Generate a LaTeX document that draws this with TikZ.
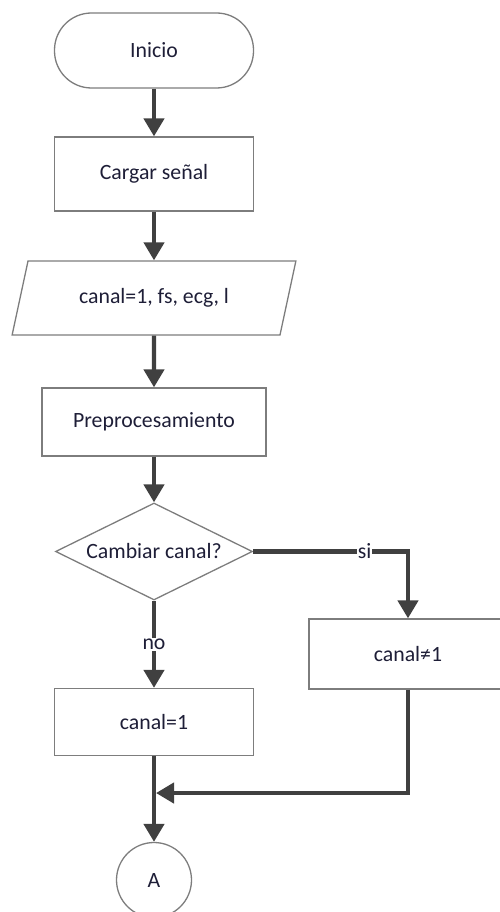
\documentclass[tikz,border=0pt]{standalone}
\usepackage{fontspec}
\setmainfont{Carlito}
\usetikzlibrary{positioning,arrows.meta,shapes.geometric}
\definecolor{linea}{RGB}{64,64,64}
\definecolor{borde}{RGB}{125,125,125}
\definecolor{texto}{RGB}{30,30,55}

\begin{document}
\begin{tikzpicture}[x=1pt,y=-1pt,>={Triangle[length=18pt,width=20pt]},
  font=\fontsize{21.8}{26}\selectfont,text=texto,
  caja/.style={draw=borde,line width=1.3pt,minimum width=199pt,inner sep=0pt},
  flujo/.style={->,draw=linea,line width=4.3pt},
  etiqueta/.style={fill=white,inner sep=1pt}]
  \useasboundingbox (0,0) rectangle (499,912);
  \node[caja,rounded corners=37pt,minimum height=75pt] (inicio) at (154,50.5) {Inicio};
  \node[caja,minimum height=74pt] (cargar) at (154,174) {Cargar señal};
  \node[caja,trapezium,trapezium left angle=63.4,trapezium right angle=116.6,
    trapezium stretches=true,minimum width=284pt,minimum height=74pt] (datos) at (154,298) {canal=1, fs, ecg, l};
  \node[caja,minimum width=224pt,minimum height=68pt] (prepro) at (154,422) {Preprocesamiento};
  \node[caja,diamond,aspect=2.03,minimum width=197pt,minimum height=97pt] (cambiar) at (154,551.5) {Cambiar canal?};
  \node[caja,minimum width=198pt,minimum height=70pt] (distinto) at (408,654) {canal≠1};
  \node[caja,minimum height=67pt] (uno) at (154,722) {canal=1};
  \node[caja,circle,minimum size=75pt] (conA) at (154,880) {A};
  \coordinate (junta) at (156,793);

  \draw[flujo] (inicio) -- (cargar);
  \draw[flujo] (cargar) -- (datos);
  \draw[flujo] (datos) -- (prepro);
  \draw[flujo] (prepro) -- (cambiar);
  \draw[flujo] (cambiar.east) -| node[etiqueta,pos=0.36]{si} (distinto.north);
  \draw[flujo] (cambiar) -- node[etiqueta]{no} (uno);
  \draw[flujo] (uno) -- (conA);
  \draw[flujo] (distinto.south) |- (junta);
\end{tikzpicture}
\end{document}
